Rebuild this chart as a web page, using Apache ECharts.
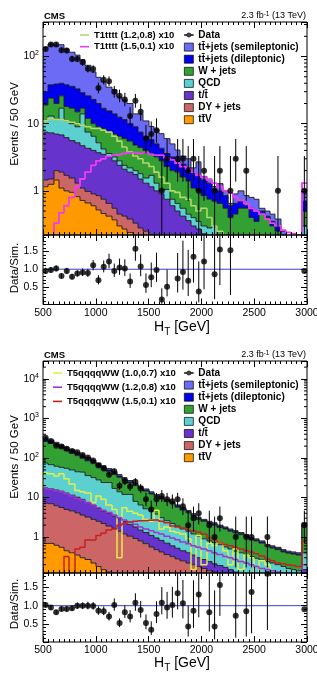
<!DOCTYPE html>
<html>
<head>
<meta charset="utf-8">
<title>H_T distributions</title>
<script src="https://cdn.jsdelivr.net/npm/echarts@6/dist/echarts.min.js"></script>
<style>
  html, body { margin: 0; padding: 0; background: #fff; }
  #main { width: 317px; height: 673px; }
</style>
</head>
<body>
<div id="main"></div>
<script>
// H_T binning: 50 GeV bins from 500 to 3000 GeV (last bin holds the overflow)
const htMin = 500;
const htMax = 3000;
const binWidth = 50;

// ---------------- upper figure (T1tttt) ----------------
// upper edge of each stacked band (events / bin)
const aTopTTV = [
  1.15, 1.25, 1.45, 1.1, 1.0, 0.95, 0.82, 0.72, 0.66, 0.6,
  0.52, 0.46, 0.42, 0.37, 0.3, 0.27, 0.24, 0.2, 0.17, 0.14,
  0.12, 0.1, 0.09, 0.08, 0.07, 0.06, 0.05, 0.045, 0.04, 0.035,
  0.03, 0.03, 0.02, 0.02, 0.02, 0.015, 0.015, 0.01, 0.01, 0.01,
  0.01, 0.01, 0.01, 0.01, 0.01, 0.01, 0.01, 0.01, 0.01, 0.05];
const aTopDY = [
  1.45, 1.5, 2.0, 1.9, 1.7, 1.55, 1.3, 1.1, 0.98, 0.9,
  0.85, 0.75, 0.65, 0.55, 0.45, 0.42, 0.38, 0.33, 0.28, 0.25,
  0.22, 0.2, 0.18, 0.16, 0.14, 0.12, 0.1, 0.09, 0.08, 0.07,
  0.06, 0.06, 0.05, 0.05, 0.04, 0.04, 0.04, 0.03, 0.03, 0.03,
  0.03, 0.02, 0.02, 0.02, 0.02, 0.02, 0.02, 0.02, 0.02, 0.1];
const aTopST = [
  7.5, 7.3, 7.0, 6.8, 6.2, 5.6, 5.2, 4.7, 4.3, 4.0,
  3.7, 3.5, 3.2, 2.8, 2.4, 2.1, 1.9, 1.75, 1.5, 1.3,
  1.15, 1.0, 0.9, 0.75, 0.6, 0.5, 0.42, 0.36, 0.3, 0.27,
  0.23, 0.2, 0.18, 0.16, 0.14, 0.12, 0.1, 0.09, 0.08, 0.07,
  0.06, 0.05, 0.05, 0.04, 0.04, 0.03, 0.03, 0.03, 0.03, 0.2];
const aTopQCD = [
  11, 13, 11.5, 17, 11, 10, 9, 14, 7.5, 6.5,
  5.2, 4.2, 3.6, 3.2, 2.8, 2.4, 2.2, 2.0, 1.8, 1.55,
  1.7, 1.3, 1.0, 1.05, 0.75, 0.65, 0.55, 0.45, 0.4, 0.35,
  0.3, 0.28, 0.3, 0.22, 0.2, 0.18, 0.16, 0.14, 0.12, 0.11,
  0.1, 0.09, 0.08, 0.07, 0.06, 0.05, 0.05, 0.05, 0.05, 0.3];
const aTopW = [
  19, 24, 20, 26, 18, 17, 15, 17, 12, 10,
  9, 8.5, 7.5, 7, 6.5, 6, 5.5, 4.8, 4.4, 4.0,
  3.6, 3.2, 2.8, 2.3, 2.0, 1.9, 1.6, 1.4, 1.1, 1.0,
  0.85, 0.75, 0.7, 0.65, 0.55, 0.4, 0.45, 0.55, 0.55, 0.4,
  0.35, 0.45, 0.4, 0.3, 0.25, 0.2, 0.18, 0.15, 0.12, 0.5];
const aTopDilep = [
  30, 38, 39, 40, 38, 36, 33, 29, 26, 23,
  20, 17, 15.5, 14, 12.5, 11.5, 10, 9, 7.5, 6.5,
  5.8, 5.0, 4.3, 3.6, 3.2, 2.8, 2.5, 2.2, 1.9, 1.7,
  1.45, 1.3, 1.05, 1.0, 0.85, 0.6, 0.65, 0.7, 0.6, 0.55,
  0.5, 0.5, 0.42, 0.35, 0.3, 0.22, 0.19, 0.16, 0.12, 0.7];
const aTopSemilep = [
  137, 154, 148, 150, 129, 116, 105, 90, 74, 59,
  49, 42, 35, 32, 25, 22.5, 20, 14, 14, 11,
  9.1, 8.2, 7.1, 6.0, 5.0, 4.05, 3.3, 3.0, 2.2, 2.7,
  1.64, 1.5, 1.16, 1.28, 1.0, 0.65, 0.9, 1.0, 0.85, 0.8,
  0.75, 0.55, 0.5, 0.45, 0.38, 0.25, 0.2, 0.18, 0.14, 1.05];

const aSig1 = [ // T1tttt (1.2,0.8) x10
  11, 12, 11.5, 11.5, 11, 10.5, 10, 9.5, 9, 8.5,
  8.5, 8, 7.5, 6.5, 5.5, 4.5, 3.8, 3.3, 3.0, 2.6,
  2.3, 1.9, 1.6, 1.3, 1.0, 0.95, 0.8, 0.75, 0.6, 0.5,
  0.55, 0.4, 0.3, 0.25, 0.2, 0.18, 0.15, 0.12, 0.1, 0.08,
  0.07, 0.06, 0.05, 0.05, 0.04, 0.04, 0.03, 0.03, 0.03, 0.1];
const aSig2 = [ // T1tttt (1.5,0.1) x10
  0.1, 0.15, 0.33, 0.47, 0.6, 0.8, 1.15, 1.5, 1.9, 2.4,
  2.8, 3.0, 3.25, 3.4, 3.45, 3.6, 3.7, 3.7, 3.6, 3.7,
  3.5, 3.4, 3.4, 3.1, 2.9, 2.6, 2.3, 2.1, 1.9, 1.7,
  1.6, 1.45, 1.3, 1.15, 1.0, 0.93, 0.8, 0.72, 0.65, 0.55,
  0.5, 0.45, 0.38, 0.33, 0.3, 0.26, 0.24, 0.23, 0.22, 1.3];

const aData = [
  130, 151, 151, 124, 123, 92, 92, 82, 66, 65,
  34, 45, 43, 30, 26, 23, 13, 22, 15, 6,
  7, 8, 1, 3, 0, 3, 3, 2, 3, 1,
  2, 0, 1, 2, 0, 1, 3, 0, 2, 0,
  0, 0, 0, 0, 1, 0, 0, 0, 0, 1];
const aDataLo = [
  119, 139, 139, 113, 112, 82.4, 82.4, 73, 58, 57,
  28.2, 38.3, 36.4, 24.5, 20.9, 18.2, 9.4, 17.3, 11.1, 3.6,
  4.4, 5.2, 0.17, 1.37, 0, 1.37, 1.37, 0.71, 1.37, 0.17,
  0.71, 0, 0.17, 0.71, 0, 0.17, 1.37, 0, 0.71, 0,
  0, 0, 0, 0, 0.17, 0, 0, 0, 0, 0.17];
const aDataHi = [
  142, 164, 164, 136, 135, 102.6, 102.6, 92, 75, 74,
  40.9, 52.7, 50.6, 36.5, 32.1, 28.9, 17.6, 27.8, 19.7, 9.6,
  10.8, 12.0, 3.3, 5.92, 0, 5.92, 5.92, 4.64, 5.92, 3.3,
  4.64, 0, 3.3, 4.64, 0, 3.3, 5.92, 0, 4.64, 0,
  0, 0, 0, 0, 3.3, 0, 0, 0, 0, 3.3];

const aRatio = [
  0.95, 0.98, 1.02, 0.81, 0.95, 0.79, 0.88, 0.91, 0.89, 1.11,
  0.69, 1.07, 1.22, 0.95, 1.05, 1.02, 0.65, 1.58, 1.08, 0.55,
  0.77, 0.98, 0.14, 0.50, null, 0.74, 0.92, 0.67, 1.35, 0.37,
  1.22, null, 0.86, 1.56, null, 1.54, null, null, null, null,
  null, null, null, null, null, null, null, null, null, 0.95];
const aRatioLo = [
  0.87, 0.90, 0.94, 0.74, 0.87, 0.71, 0.79, 0.81, 0.78, 0.97,
  0.57, 0.91, 1.03, 0.78, 0.84, 0.81, 0.47, 1.24, 0.80, 0.33,
  0.49, 0.64, 0.02, 0.23, null, 0.34, 0.42, 0.24, 0.62, 0.06,
  0.43, null, 0.15, 0.55, null, 0.27, null, null, null, null,
  null, null, null, null, null, null, null, null, null, null];
const aRatioHi = [
  1.04, 1.06, 1.11, 0.89, 1.04, 0.87, 0.97, 1.02, 1.01, 1.26,
  0.83, 1.25, 1.44, 1.16, 1.30, 1.28, 0.88, 2.0, 1.42, 0.88,
  1.19, 1.47, 0.46, 0.99, null, 1.46, 1.81, 1.55, 2.66, 1.22,
  2.83, null, 2.84, 3.6, null, 5.1, null, null, null, null,
  null, null, null, null, null, null, null, null, null, null];

// ---------------- lower figure (T5qqqqWW) ----------------
const bTopTTV = [
  0.69, 0.69, 0.62, 0.55, 0.45, 0.4, 0.35, 0.3, 0.27, 0.22,
  0.18, 0.15, 0.13, 0.11, 0.1, 0.09, 0.08, 0.07, 0.06, 0.05,
  0.045, 0.04, 0.035, 0.03, 0.03, 0.025, 0.02, 0.02, 0.02, 0.015,
  0.015, 0.01, 0.01, 0.01, 0.01, 0.01, 0.01, 0.01, 0.01, 0.01,
  0.01, 0.01, 0.01, 0.01, 0.01, 0.01, 0.01, 0.01, 0.01, 0.03];
const bTopDY = [
  7.2, 7.0, 6.2, 5.6, 5.0, 4.6, 4.1, 3.6, 3.2, 2.8,
  2.5, 2.2, 1.9, 1.65, 1.4, 1.2, 1.05, 0.92, 0.8, 0.68,
  0.56, 0.48, 0.42, 0.36, 0.32, 0.28, 0.25, 0.22, 0.2, 0.18,
  0.16, 0.14, 0.13, 0.12, 0.11, 0.1, 0.09, 0.08, 0.07, 0.065,
  0.06, 0.055, 0.05, 0.045, 0.04, 0.035, 0.03, 0.03, 0.03, 0.1];
const bTopST = [
  17.5, 16.5, 15.5, 14.5, 13, 11.5, 10.2, 9.0, 7.5, 6.3,
  5.3, 4.6, 4.0, 3.4, 2.9, 2.5, 2.1, 1.8, 1.5, 1.3,
  1.1, 0.95, 0.82, 0.7, 0.6, 0.52, 0.45, 0.4, 0.35, 0.3,
  0.27, 0.24, 0.21, 0.19, 0.17, 0.15, 0.13, 0.12, 0.11, 0.1,
  0.09, 0.08, 0.07, 0.065, 0.06, 0.055, 0.05, 0.05, 0.05, 0.15];
const bTopQCD = [
  75, 68, 62, 58, 55, 50, 45, 44, 36, 32,
  28, 24, 24, 17, 14, 12, 12, 8, 6.5, 5.2,
  4.5, 3.8, 3.1, 2.6, 2.2, 1.9, 1.6, 1.4, 1.2, 1.05,
  0.9, 0.8, 0.72, 0.64, 0.56, 0.5, 0.44, 0.4, 0.36, 0.32,
  0.29, 0.26, 0.24, 0.22, 0.2, 0.18, 0.16, 0.15, 0.14, 0.4];
const bTopW = [
  262, 234, 205, 176, 154, 133, 115, 98, 85, 72,
  62, 54, 46, 38, 32.5, 27.5, 23.5, 20, 17, 14.5,
  12.3, 10.5, 9.2, 7.9, 6.9, 5.7, 4.8, 4.1, 3.4, 2.8,
  2.5, 2.2, 2.0, 1.75, 1.6, 1.4, 1.28, 1.15, 1.0, 0.84,
  0.8, 0.7, 0.57, 0.53, 0.48, 0.42, 0.39, 0.37, 0.35, 2.1];
const bTopDilep = [
  291, 259, 228, 196, 171, 147, 127, 109, 94, 80,
  68.5, 59, 50, 41.5, 35, 29.5, 25, 21.5, 18.2, 15.4,
  13.1, 11.2, 9.8, 8.4, 7.3, 6.1, 5.15, 4.4, 3.65, 3.0,
  2.63, 2.35, 2.15, 1.88, 1.7, 1.5, 1.36, 1.22, 1.08, 0.89,
  0.85, 0.75, 0.61, 0.56, 0.52, 0.45, 0.41, 0.39, 0.37, 2.2];
const bTopSemilep = [
  320, 285, 250, 215, 188, 162, 140, 120, 103, 88,
  75, 64, 54, 45, 38, 32, 27, 23, 19.5, 16.5,
  14, 12, 10.5, 9, 7.8, 6.5, 5.5, 4.7, 3.9, 3.2,
  2.8, 2.5, 2.3, 2.0, 1.8, 1.6, 1.45, 1.3, 1.15, 0.95,
  0.9, 0.8, 0.65, 0.6, 0.55, 0.48, 0.44, 0.42, 0.4, 2.3];

const bSig1 = [ // T5qqqqWW (1.0,0.7) x10
  42, 40, 35, 40, 30, 22, 15, 14, 13, 7.5,
  11, 9, 6.5, 5, 0.3, 5.5, 4.5, 4, 3.6, 2.8,
  2.5, 4.8, 1.6, 1.8, 1.4, 1.3, 1.2, 0.9, 0.15, 1.1,
  0.2, 0.7, 0.6, 0.75, 0.45, 0.2, 0.5, 0.15, 0.35, 0.3,
  0.12, 0.25, 0.2, 0.1, 0.08, 0.07, 0.06, 0.05, 0.05, 0.1];
const bSig2 = [ // T5qqqqWW (1.2,0.8) x10
  17, 16, 15, 14, 12.5, 11, 9.5, 8.5, 7.5, 6.5,
  5.5, 4.8, 4.2, 3.6, 3.1, 2.7, 2.4, 2.1, 1.8, 1.6,
  1.45, 1.3, 1.2, 1.05, 0.95, 0.85, 0.75, 0.68, 0.6, 0.55,
  0.5, 0.45, 0.4, 0.36, 0.32, 0.3, 0.27, 0.24, 0.22, 0.2,
  0.18, 0.16, 0.15, 0.14, 0.13, 0.12, 0.12, 0.11, 0.11, 0.2];
const bSig3 = [ // T5qqqqWW (1.5,0.1) x10
  0.05, 0.05, 0.05, 0.05, 0.32, 0.05, 0.5, 0.55, 0.84, 0.84,
  1.1, 1.25, 1.5, 1.6, 2.0, 2.2, 2.4, 2.5, 2.6, 2.6,
  2.65, 2.7, 2.5, 2.3, 1.9, 1.8, 1.7, 1.5, 1.45, 1.35,
  1.2, 0.95, 0.85, 0.75, 0.65, 0.6, 0.55, 0.5, 0.45, 0.42,
  0.38, 0.33, 0.28, 0.25, 0.22, 0.21, 0.2, 0.19, 0.18, 0.8];

const bData = [
  326, 271, 205, 196, 171, 151, 140, 120, 103, 87,
  65, 54, 38, 46, 20, 26, 19, 25, 17, 9,
  5, 9, 11, 9, 8, 9, 6, 2, 3, 4,
  0, 2, 1, 3, 0, 0, 1, 0, 1, 1,
  0, 0, 1, 0, 0, 0, 0, 0, 0, 2];
const bDataLo = [
  308, 255, 191, 182, 158, 139, 128, 109, 93, 78,
  57, 47, 32, 39, 15.6, 20.9, 14.7, 20, 12.9, 6.06,
  2.84, 6.06, 7.73, 6.06, 5.23, 6.06, 3.62, 0.71, 1.37, 2.09,
  0, 0.71, 0.17, 1.37, 0, 0, 0.17, 0, 0.17, 0.17,
  0, 0, 0.17, 0, 0, 0, 0, 0, 0, 0.71];
const bDataHi = [
  345, 288, 220, 211, 185, 164, 152, 131, 114, 97,
  74, 62, 45, 54, 25.1, 32.1, 24.0, 31, 21.9, 13.1,
  8.38, 13.1, 15.4, 13.1, 11.95, 13.1, 9.58, 4.64, 5.92, 7.16,
  0, 4.64, 3.3, 5.92, 0, 0, 3.3, 0, 3.3, 3.3,
  0, 0, 3.3, 0, 0, 0, 0, 0, 0, 4.64];

const bRatio = [
  1.02, 0.95, 0.82, 0.91, 0.91, 0.93, 1.0, 1.0, 1.0, 0.99,
  0.86, 0.85, 0.70, 1.02, 0.52, 0.82, 0.70, 1.08, 0.88, 0.52,
  0.34, 0.77, 1.08, 0.95, 1.02, 1.34, 1.07, 0.43, 0.86, 1.31,
  null, 0.82, 0.43, 1.57, null, null, 0.72, null, 0.85, 1.38,
  null, null, 1.88, null, null, null, null, null, null, 0.90];
const bRatioLo = [
  0.96, 0.89, 0.76, 0.85, 0.84, 0.86, 0.91, 0.91, 0.90, 0.89,
  0.75, 0.74, 0.59, 0.86, 0.41, 0.66, 0.54, 0.86, 0.67, 0.35,
  0.19, 0.52, 0.76, 0.64, 0.67, 0.90, 0.65, 0.15, 0.39, 0.68,
  null, 0.29, 0.07, 0.72, null, null, 0.12, null, 0.15, 0.24,
  null, null, 0.33, null, null, null, null, null, null, null];
const bRatioHi = [
  1.08, 1.01, 0.88, 0.98, 0.98, 1.0, 1.09, 1.09, 1.11, 1.10,
  0.98, 0.98, 0.83, 1.20, 0.65, 1.01, 0.88, 1.34, 1.13, 0.76,
  0.57, 1.12, 1.51, 1.38, 1.52, 1.95, 1.71, 1.0, 1.70, 2.34,
  null, 1.9, 1.42, 3.1, null, null, 2.38, null, 2.8, 4.55,
  null, null, 6.2, null, null, null, null, null, null, null];

// processes, top of the stack first
const procNames = ['tt\u0304+jets (semileptonic)', 'tt\u0304+jets (dileptonic)', 'W + jets', 'QCD',
  't/t\u0304', 'DY + jets', 'tt\u0304V'];
const procColors = ['#6b6bf5', '#0000ee', '#33a033', '#5ccfcf', '#6633cc', '#cc6666', '#ff9900'];

const FONT = '"Liberation Sans", Arial, sans-serif';
const binLow = [];
for (let x = htMin; x < htMax; x += binWidth) binLow.push(x);

const clampV = (v, lo, hi) => Math.min(Math.max(v, lo), hi);

// filled band between two stack edges, with ROOT-like step outline on top
function bandSeries(name, color, upper, lower, axis, floor, ceil) {
  const data = upper.map((hi, i) => [
    binLow[i], binLow[i] + binWidth,
    clampV(lower ? lower[i] : floor, floor, ceil),
    clampV(hi, floor, ceil),
    clampV(i > 0 ? upper[i - 1] : floor, floor, ceil)
  ]);
  return {
    type: 'custom', name, coordinateSystem: 'cartesian2d',
    xAxisIndex: axis, yAxisIndex: axis, clip: true, silent: true, z: 2,
    itemStyle: { color }, encode: { x: [0, 1], y: [2, 3, 4] }, data,
    renderItem: (params, api) => {
      const tl = api.coord([api.value(0), api.value(3)]);
      const br = api.coord([api.value(1), api.value(2)]);
      const pv = api.coord([api.value(0), api.value(4)]);
      // snap bin edges to whole pixels so neighbouring bins leave no seam
      const x0 = Math.round(tl[0]), x1 = Math.round(br[0]);
      return {
        type: 'group',
        children: [
          { type: 'rect', shape: { x: x0, y: tl[1], width: x1 - x0, height: br[1] - tl[1] },
            style: { fill: color } },
          { type: 'polyline', shape: { points: [[x0, pv[1]], [x0, tl[1]], [x1, tl[1]]] },
            style: { stroke: '#1c1c1c', lineWidth: 0.9, fill: null } }
        ]
      };
    }
  };
}

function stepLine(name, color, width, values, axis, floor) {
  const data = values.map((v, i) => [binLow[i], binLow[i] + binWidth,
    Math.max(v, floor), Math.max(i > 0 ? values[i - 1] : floor, floor)]);
  return {
    type: 'custom', name, coordinateSystem: 'cartesian2d',
    xAxisIndex: axis, yAxisIndex: axis, clip: true, silent: true, z: 3,
    itemStyle: { color }, encode: { x: [0, 1], y: [2, 3] }, data,
    renderItem: (params, api) => {
      const a = api.coord([api.value(0), api.value(3)]);
      const b = api.coord([api.value(0), api.value(2)]);
      const c = api.coord([api.value(1), api.value(2)]);
      const x0 = Math.round(a[0]), x1 = Math.round(c[0]);
      return { type: 'polyline', shape: { points: [[x0, a[1]], [x0, b[1]], [x1, c[1]]] },
        style: { stroke: color, lineWidth: width, fill: null } };
    }
  };
}

function pointSeries(name, values, lo, hi, axis, floor, ceil) {
  const pts = [], bars = [];
  values.forEach((v, i) => {
    if (!v) return; // empty bins are not drawn
    const xc = binLow[i] + binWidth / 2;
    pts.push([xc, v]);
    if (lo[i] != null) bars.push([xc, clampV(lo[i], floor, ceil), clampV(hi[i], floor, ceil)]);
  });
  return [
    {
      type: 'custom', coordinateSystem: 'cartesian2d', xAxisIndex: axis, yAxisIndex: axis,
      clip: true, silent: true, z: 4, encode: { x: 0, y: [1, 2] }, data: bars,
      renderItem: (params, api) => {
        const a = api.coord([api.value(0), api.value(1)]);
        const b = api.coord([api.value(0), api.value(2)]);
        return { type: 'line', shape: { x1: a[0], y1: a[1], x2: b[0], y2: b[1] },
          style: { stroke: '#000', lineWidth: 1 } };
      }
    },
    {
      type: 'scatter', name, xAxisIndex: axis, yAxisIndex: axis, symbol: 'circle', symbolSize: 6,
      itemStyle: { color: '#000' }, z: 5, silent: true, data: pts
    }
  ];
}

// minor ticks 2..9 x 10^n on both sides of a log frame
function logMinorTicks(axis, min, max) {
  const vals = [];
  for (let e = Math.floor(Math.log10(min)); e <= Math.ceil(Math.log10(max)); e++) {
    for (let m = 2; m <= 9; m++) {
      const v = m * Math.pow(10, e);
      if (v > min && v < max) vals.push([htMin, v]);
    }
  }
  return {
    type: 'custom', coordinateSystem: 'cartesian2d', xAxisIndex: axis, yAxisIndex: axis,
    silent: true, z: 7, encode: { x: 0, y: 1 }, data: vals,
    renderItem: (params, api) => {
      const cs = params.coordSys;
      const y = api.coord([htMin, api.value(1)])[1];
      return {
        type: 'group', children: [
          { type: 'line', shape: { x1: cs.x, y1: y, x2: cs.x + 3, y2: y }, style: { stroke: '#000', lineWidth: 1 } },
          { type: 'line', shape: { x1: cs.x + cs.width - 3, y1: y, x2: cs.x + cs.width, y2: y }, style: { stroke: '#000', lineWidth: 1 } }
        ]
      };
    }
  };
}

function panel(cfg) {
  const floor = cfg.yMin * 0.5, ceil = cfg.yMax * 2;
  const out = [];
  cfg.edges.forEach((up, k) => {
    const low = k < cfg.edges.length - 1 ? cfg.edges[k + 1] : null;
    out.push(bandSeries(procNames[k], procColors[k], up, low, cfg.main, floor, ceil));
  });
  cfg.signals.forEach(s => out.push(stepLine(s.name, s.color, s.width, s.values, cfg.main, floor)));
  out.push(...pointSeries('Data', cfg.data, cfg.dataLo, cfg.dataHi, cfg.main, floor, ceil));
  out.push({
    type: 'line', xAxisIndex: cfg.ratio, yAxisIndex: cfg.ratio, data: [[htMin, 1], [htMax, 1]],
    symbol: 'none', silent: true, z: 3, lineStyle: { color: '#3344cc', width: 1 }
  });
  out.push(...pointSeries('', cfg.ratioVals, cfg.ratioLo, cfg.ratioHi, cfg.ratio, -1, 10));
  out.push(logMinorTicks(cfg.main, cfg.yMin, cfg.yMax));
  return out;
}

// ---------- axes ----------
function htAxis(grid, position, labels) {
  return {
    type: 'value', gridIndex: grid, position, min: htMin, max: htMax, interval: 500, z: 6,
    axisLine: { show: false, onZero: false },
    axisTick: { show: true, inside: true, length: 6, lineStyle: { color: '#000', width: 1 } },
    minorTick: { show: true, splitNumber: 10, length: 3, lineStyle: { color: '#000', width: 1 } },
    splitLine: { show: false }, minorSplitLine: { show: false },
    axisLabel: { show: labels, color: '#000', fontSize: 10.5, fontFamily: FONT, margin: 3,
      showMinLabel: true, showMaxLabel: true, formatter: v => String(v) }
  };
}
function powerLabel(v) {
  const e = Math.log10(v), r = Math.round(e);
  if (Math.abs(e - r) > 1e-6) return '';
  if (r === 0) return '{b|1}';
  if (r === 1) return '{b|10}';
  return '{b|10}{s|' + r + '}';
}
function countAxis(grid, position, min, max, labels) {
  return {
    type: 'log', logBase: 10, gridIndex: grid, position, min, max, z: 6,
    axisLine: { show: false, onZero: false }, splitLine: { show: false },
    axisTick: { show: true, inside: true, length: 6, lineStyle: { color: '#000', width: 1 } },
    axisLabel: {
      show: labels, formatter: powerLabel, margin: 4,
      rich: {
        b: { fontSize: 10.5, fontFamily: FONT, color: '#000', lineHeight: 13 },
        s: { fontSize: 7, fontFamily: FONT, color: '#000', lineHeight: 13, verticalAlign: 'top' }
      }
    }
  };
}
function ratioAxis(grid, position, max, labels) {
  return {
    type: 'value', gridIndex: grid, position, min: 0, max, interval: 0.5, z: 6,
    axisLine: { show: false, onZero: false }, splitLine: { show: false },
    axisTick: { show: true, inside: true, length: 6, lineStyle: { color: '#000', width: 1 } },
    minorTick: { show: true, splitNumber: 5, length: 3, lineStyle: { color: '#000', width: 1 } },
    axisLabel: {
      show: labels, color: '#000', fontSize: 10.5, fontFamily: FONT, margin: 5,
      formatter: v => (Math.abs(v - 0.5) < 1e-9 ? '0.5' : Math.abs(v - 1) < 1e-9 ? '1.0' : Math.abs(v - 1.5) < 1e-9 ? '1.5' : '')
    }
  };
}

const aYMin = 0.22, aYMax = 327, aRMax = 1.97;
const bYMin = 0.123, bYMax = 28600, bRMax = 1.9;

const series = [].concat(
  panel({
    main: 0, ratio: 2, yMin: aYMin, yMax: aYMax,
    edges: [aTopSemilep, aTopDilep, aTopW, aTopQCD, aTopST, aTopDY, aTopTTV],
    signals: [
      { name: 'T1tttt (1.2,0.8) x10', color: '#b5d868', width: 1.6, values: aSig1 },
      { name: 'T1tttt (1.5,0.1) x10', color: '#f03cf0', width: 1.8, values: aSig2 }
    ],
    data: aData, dataLo: aDataLo, dataHi: aDataHi,
    ratioVals: aRatio, ratioLo: aRatioLo, ratioHi: aRatioHi
  }),
  panel({
    main: 4, ratio: 6, yMin: bYMin, yMax: bYMax,
    edges: [bTopSemilep, bTopDilep, bTopW, bTopQCD, bTopST, bTopDY, bTopTTV],
    signals: [
      { name: 'T5qqqqWW (1.0,0.7) x10', color: '#e0f04a', width: 1.5, values: bSig1 },
      { name: 'T5qqqqWW (1.2,0.8) x10', color: '#a035cc', width: 1.5, values: bSig2 },
      { name: 'T5qqqqWW (1.5,0.1) x10', color: '#c82020', width: 1.5, values: bSig3 }
    ],
    data: bData, dataLo: bDataLo, dataHi: bDataHi,
    ratioVals: bRatio, ratioLo: bRatioLo, ratioHi: bRatioHi
  })
);

const dataIcon = 'path://M0,4.4h12v1.2h-12z M3.2,5a2.8,2.8 0 1,0 5.6,0a2.8,2.8 0 1,0 -5.6,0z';
const legendText = { fontSize: 10, fontWeight: 'bold', fontFamily: FONT, color: '#000', lineHeight: 10 };
const sigText = { fontSize: 9.5, fontWeight: 'bold', fontFamily: FONT, color: '#000', lineHeight: 10 };
function bgLegend(top) {
  return {
    orient: 'vertical', left: 184, top, itemWidth: 9, itemHeight: 8, itemGap: 2.1, padding: 0,
    icon: 'rect', selectedMode: false, itemStyle: { borderColor: '#000', borderWidth: 0.7 },
    textStyle: legendText, data: [{ name: 'Data', icon: dataIcon }].concat(procNames)
  };
}
function sigLegend(left, top, gap, names) {
  return {
    orient: 'vertical', left, top, itemWidth: 9, itemHeight: 1.6, itemGap: gap, padding: 0,
    icon: 'rect', selectedMode: false, itemStyle: { borderWidth: 0 },
    textStyle: sigText, data: names
  };
}

function text(str, x, y, size, weight, align) {
  return { type: 'text', x, y, z: 10, silent: true,
    style: { text: str, fill: '#000', fontSize: size, fontWeight: weight, fontFamily: FONT,
      align, textAlign: align, verticalAlign: 'middle', textVerticalAlign: 'middle' } };
}
function lumi(x, y) {
  return { type: 'text', x, y, z: 10, silent: true,
    style: { text: '{a|2.3 fb}{u|-1}{a| (13 TeV)}', fill: '#000',
      rich: { a: { fontSize: 9, fontFamily: FONT, lineHeight: 11 },
              u: { fontSize: 6.5, fontFamily: FONT, lineHeight: 11, verticalAlign: 'top' } },
      align: 'right', textAlign: 'right', verticalAlign: 'middle', textVerticalAlign: 'middle' } };
}
function vTitle(str, x, y) {
  const t = text(str, x, y, 11.5, 'normal', 'center');
  t.rotation = Math.PI / 2;
  return t;
}
function htTitle(x, y) {
  return { type: 'text', x, y, z: 10, silent: true,
    style: { text: '{h|H}{s|T}{h| [GeV]}', fill: '#000',
      rich: { h: { fontSize: 14, fontFamily: FONT, lineHeight: 18 },
              s: { fontSize: 10, fontFamily: FONT, lineHeight: 20, verticalAlign: 'bottom' } },
      align: 'center', textAlign: 'center', verticalAlign: 'middle', textVerticalAlign: 'middle' } };
}

const gridBase = { show: true, borderColor: '#000', borderWidth: 1, backgroundColor: 'transparent',
  z: 6, left: 43, right: 10, containLabel: false, outerBoundsMode: 'none' };

const option = {
  animation: false,
  backgroundColor: '#fff',
  textStyle: { fontFamily: FONT },
  grid: [
    Object.assign({}, gridBase, { top: 22, height: 213 }),
    Object.assign({}, gridBase, { top: 235, height: 69.5 }),
    Object.assign({}, gridBase, { top: 361, height: 212 }),
    Object.assign({}, gridBase, { top: 573, height: 69 })
  ],
  xAxis: [
    htAxis(0, 'bottom', false), htAxis(0, 'top', false),
    htAxis(1, 'bottom', true), htAxis(1, 'top', false),
    htAxis(2, 'bottom', false), htAxis(2, 'top', false),
    htAxis(3, 'bottom', true), htAxis(3, 'top', false)
  ],
  yAxis: [
    countAxis(0, 'left', aYMin, aYMax, true), countAxis(0, 'right', aYMin, aYMax, false),
    ratioAxis(1, 'left', aRMax, true), ratioAxis(1, 'right', aRMax, false),
    countAxis(2, 'left', bYMin, bYMax, true), countAxis(2, 'right', bYMin, bYMax, false),
    ratioAxis(3, 'left', bRMax, true), ratioAxis(3, 'right', bRMax, false)
  ],
  legend: [
    bgLegend(30),
    sigLegend(80, 30, 1.7, ['T1tttt (1.2,0.8) x10', 'T1tttt (1.5,0.1) x10']),
    bgLegend(368),
    sigLegend(53, 368, 4.2, ['T5qqqqWW (1.0,0.7) x10', 'T5qqqqWW (1.2,0.8) x10', 'T5qqqqWW (1.5,0.1) x10'])
  ],
  graphic: [
    text('CMS', 44, 16, 9.5, 'bold', 'left'), lumi(306, 16),
    text('CMS', 44, 355, 9.5, 'bold', 'left'), lumi(306, 355),
    vTitle('Events / 50 GeV', 15, 124), vTitle('Data/Sim.', 15, 268),
    vTitle('Events / 50 GeV', 15, 457), vTitle('Data/Sim.', 15, 604),
    htTitle(182, 327), htTitle(182, 663)
  ],
  series
};

const chart = echarts.init(document.getElementById('main'), null, { renderer: 'canvas' });
chart.setOption(option);
</script>
</body>
</html>
